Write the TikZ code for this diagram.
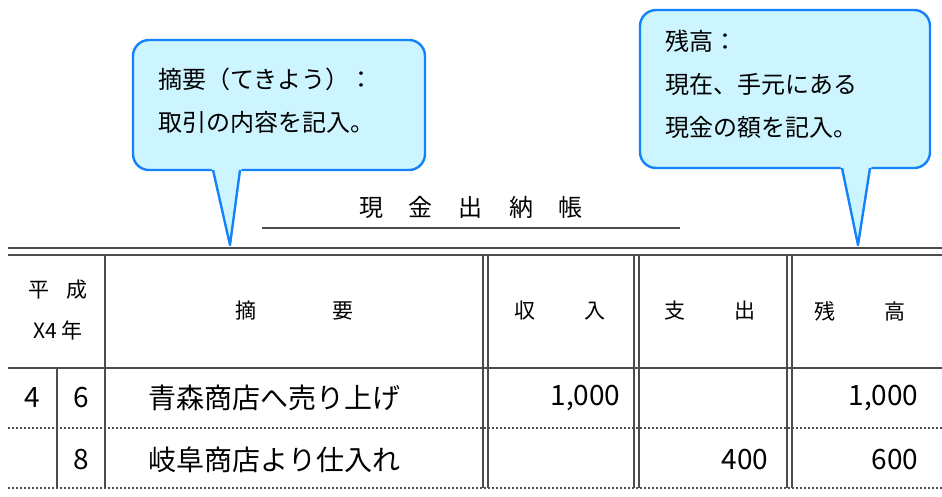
\documentclass[tikz,border=0pt]{standalone}
\usepackage{fontspec}
\setmainfont{Noto Sans CJK JP}
\begin{document}
\begin{tikzpicture}[x=1pt,y=-1pt,
  rule/.style={draw=black!70,line width=1.6pt},
  thin/.style={draw=black!70,line width=1.2pt},
  dotl/.style={draw=black!70,line width=1.4pt,dash pattern=on 2pt off 2pt},
  bub/.style={draw={rgb,255:red,20;green,130;blue,250},line width=2.4pt,fill={rgb,255:red,205;green,245;blue,255},rounded corners=16pt},
  tailf/.style={fill={rgb,255:red,205;green,245;blue,255}},
  taild/.style={draw={rgb,255:red,20;green,130;blue,250},line width=2.4pt,line join=round},
  hd/.style={font=\fontsize{21}{21}\selectfont},
  bd/.style={font=\fontsize{28}{28}\selectfont},
  bt/.style={font=\fontsize{24}{43}\selectfont,align=left,anchor=north west}]
\useasboundingbox (0,0) rectangle (942,496);
% callouts
\draw[bub] (133,40) rectangle (425,170);
\fill[tailf] (211,166) -- (230,245) -- (242,166) -- cycle;
\draw[taild] (213,170) -- (230,245) -- (240,170);
\node[bt] (c1) at (155,64) {摘要（てきよう）：\\取引の内容を記入。};
\draw[bub] (640,10) rectangle (930,168);
\fill[tailf] (840,164) -- (858,245) -- (872,164) -- cycle;
\draw[taild] (842,168) -- (858,245) -- (870,168);
\node[bt] (c2) at (662,27) {残高：\\現在、手元にある\\現金の額を記入。};
% title
\node[font=\fontsize{24}{24}\selectfont] (t) at (471,207) {現\hspace{26pt}金\hspace{26pt}出\hspace{26pt}納\hspace{26pt}帳};
\draw[thin] (262,228) -- (680,228);
% table
\draw[rule] (8,248) -- (942,248);
\draw[rule] (8,255) -- (942,255);
\draw[rule] (8,368) -- (942,368);
\draw[dotl] (8,428) -- (942,428);
\draw[dotl] (8,488) -- (942,488);
\foreach \x in {105,483,488,634,639,787,792} \draw[thin] (\x,255) -- (\x,488);
\draw[thin] (57,368) -- (57,488);
% header
\node[hd] (h1) at (58,290) {平\hspace{18pt}成};
\node[hd] (h2) at (58,330) {X4\hspace{4pt}年};
\node[hd] (h3) at (294,311) {摘\hspace{76pt}要};
\node[hd] (h4) at (560,311) {収\hspace{50pt}入};
\node[hd] (h5) at (710,311) {支\hspace{50pt}出};
\node[hd] (h6) at (860,311) {残\hspace{50pt}高};
% rows
\node[bd] (m1) at (32,398) {4};
\node[bd] (d1) at (81,398) {6};
\node[bd,anchor=west] (s1) at (145,398) {青森商店へ売り上げ};
\node[bd,anchor=east] (r1) at (624,398) {1,000};
\node[bd,anchor=east] (b1) at (922,398) {1,000};
\node[bd] (d2) at (81,460) {8};
\node[bd,anchor=west] (s2) at (145,460) {岐阜商店より仕入れ};
\node[bd,anchor=east] (p2) at (772,460) {400};
\node[bd,anchor=east] (b2) at (922,460) {600};
\end{tikzpicture}
\end{document}
